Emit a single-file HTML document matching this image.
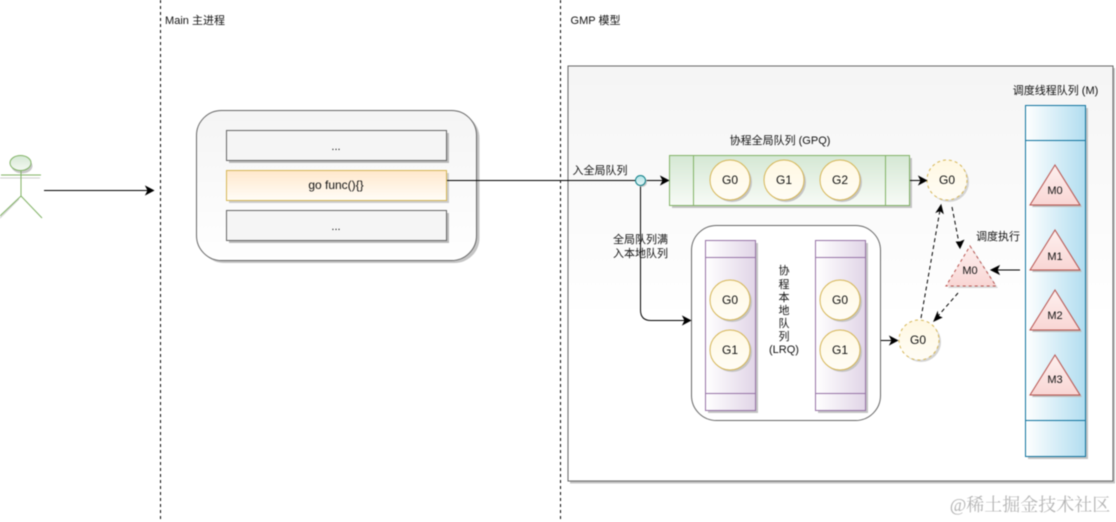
<!DOCTYPE html>
<html>
<head>
<meta charset="utf-8">
<style>
html,body{margin:0;padding:0;background:#fff;width:1116px;height:522px;overflow:hidden}
svg{display:block;filter:blur(0.4px)}
text{font-family:"Liberation Sans","Noto Sans CJK SC",sans-serif;font-size:11px;fill:#111;text-anchor:middle}
text.b{font-size:12px}
</style>
</head>
<body>
<svg width="1116" height="522" viewBox="0 0 1116 522" xmlns="http://www.w3.org/2000/svg">
<defs>
<linearGradient id="bgv" x1="0" y1="0" x2="0" y2="1"><stop offset="0" stop-color="#f5f5f5"/><stop offset="0.6" stop-color="#ffffff"/></linearGradient>
<linearGradient id="main" x1="0" y1="0" x2="0" y2="1"><stop offset="0" stop-color="#f5f5f5"/><stop offset="1" stop-color="#ffffff"/></linearGradient>
<linearGradient id="yel" x1="0" y1="0" x2="0" y2="1"><stop offset="0" stop-color="#ffe8cc"/><stop offset="1" stop-color="#fffdf8"/></linearGradient>
<linearGradient id="grn" x1="0" y1="0" x2="0" y2="1"><stop offset="0" stop-color="#d5e8d4"/><stop offset="1" stop-color="#f8fbf7"/></linearGradient>
<linearGradient id="pur" x1="0" y1="0" x2="1" y2="0"><stop offset="0" stop-color="#ffffff"/><stop offset="1" stop-color="#e1d5e7"/></linearGradient>
<linearGradient id="blu" x1="0" y1="0" x2="1" y2="0"><stop offset="0" stop-color="#ffffff"/><stop offset="1" stop-color="#b1ddf0"/></linearGradient>
<linearGradient id="red" x1="0" y1="0" x2="0" y2="1"><stop offset="0" stop-color="#fdf0ef"/><stop offset="1" stop-color="#f9d6d4"/></linearGradient>
<linearGradient id="cir" x1="0" y1="0" x2="0" y2="1"><stop offset="0" stop-color="#fff8e2"/><stop offset="1" stop-color="#fffdf6"/></linearGradient>
<linearGradient id="head" x1="0" y1="0" x2="0" y2="1"><stop offset="0" stop-color="#d5e8d4"/><stop offset="1" stop-color="#f4f9f3"/></linearGradient>
<linearGradient id="dot" x1="0" y1="0" x2="0" y2="1"><stop offset="0" stop-color="#b0e3e6"/><stop offset="1" stop-color="#e6f6f7"/></linearGradient>
</defs>

<!-- swimlanes -->
<line x1="160.5" y1="0" x2="160.5" y2="522" stroke="#000" stroke-width="1" stroke-dasharray="3 3"/>
<line x1="560.5" y1="0" x2="560.5" y2="522" stroke="#000" stroke-width="1" stroke-dasharray="3 3"/>
<text x="195" y="24">Main 主进程</text>
<text x="595.5" y="24">GMP 模型</text>

<!-- actor -->
<g fill="none" stroke="#d0d0d0" stroke-width="1" transform="translate(-2,3)">
<ellipse cx="24" cy="163" rx="10.5" ry="7.5" fill="#c8c8c8" stroke="none"/>
<line x1="0" y1="175" x2="42" y2="175"/>
<line x1="21" y1="196" x2="0" y2="217"/>
</g>
<ellipse cx="20.5" cy="163" rx="10.5" ry="7.5" fill="url(#head)" stroke="#82b366"/>
<g fill="none" stroke="#82b366" stroke-width="1">
<line x1="1" y1="175" x2="41" y2="175"/>
<line x1="21" y1="171" x2="21" y2="196"/>
<line x1="21" y1="196" x2="0" y2="216"/>
<line x1="21" y1="196" x2="42" y2="218"/>
</g>
<line x1="44" y1="190.5" x2="149" y2="190.5" stroke="#000"/>
<path d="M153.5,190.5 L146,186.5 L148,190.5 L146,194.5 Z" fill="#000" stroke="#000"/>

<!-- main box -->
<rect x="199" y="113" width="280.5" height="150" rx="25" fill="#c4c4c4"/>
<rect x="196.5" y="110.5" width="280" height="150" rx="25" fill="url(#main)" stroke="#666"/>
<rect x="229" y="133" width="220" height="30" fill="#bbb"/>
<rect x="226.5" y="130.5" width="220" height="30" fill="#f5f5f5" stroke="#666"/>
<text x="336" y="150">...</text>
<rect x="229" y="173" width="220" height="30" fill="#ccc"/>
<rect x="226.5" y="170.5" width="220" height="30" fill="url(#yel)" stroke="#d6b656"/>
<text class="b" x="336" y="189">go func(){}</text>
<rect x="229" y="213" width="220" height="30" fill="#bbb"/>
<rect x="226.5" y="210.5" width="220" height="30" fill="#f5f5f5" stroke="#666"/>
<text x="336" y="230">...</text>

<!-- GMP container -->
<rect x="570" y="68" width="545" height="415.5" fill="#c4c4c4"/>
<rect x="568" y="66" width="545" height="415" fill="url(#bgv)" stroke="#666"/>

<text x="780" y="144">协程全局队列 (GPQ)</text>
<text x="1055.5" y="94">调度线程队列 (M)</text>
<text x="600" y="174">入全局队列</text>
<text x="640.5" y="243">全局队列满</text>
<text x="640.5" y="257">入本地队列</text>
<text x="998" y="240">调度执行</text>

<!-- GPQ -->
<rect x="672" y="158" width="240" height="50" fill="#c4c4c4"/>
<rect x="669.5" y="155.5" width="240" height="50" fill="url(#grn)" stroke="#82b366"/>
<line x1="693.5" y1="155.5" x2="693.5" y2="205.5" stroke="#82b366"/>
<line x1="885.5" y1="155.5" x2="885.5" y2="205.5" stroke="#82b366"/>

<!-- LRQ -->
<rect x="691.5" y="225.5" width="189" height="195" rx="25" fill="#fff" stroke="#666"/>
<rect x="708" y="243" width="50" height="170" fill="#c4c4c4"/>
<rect x="705.5" y="240.5" width="50" height="170" fill="url(#pur)" stroke="#9673a6"/>
<line x1="705.5" y1="257.5" x2="755.5" y2="257.5" stroke="#9673a6"/>
<line x1="705.5" y1="393.5" x2="755.5" y2="393.5" stroke="#9673a6"/>
<rect x="818" y="243" width="50" height="170" fill="#c4c4c4"/>
<rect x="815.5" y="240.5" width="50" height="170" fill="url(#pur)" stroke="#9673a6"/>
<line x1="815.5" y1="257.5" x2="865.5" y2="257.5" stroke="#9673a6"/>
<line x1="815.5" y1="393.5" x2="865.5" y2="393.5" stroke="#9673a6"/>
<text x="784" y="274">协</text>
<text x="784" y="288">程</text>
<text x="784" y="301">本</text>
<text x="784" y="314">地</text>
<text x="784" y="327">队</text>
<text x="784" y="340">列</text>
<text x="784" y="353">(LRQ)</text>

<!-- circles -->
<g fill="#c4c4c4">
<circle cx="732" cy="182" r="20"/><circle cx="786" cy="182" r="20"/><circle cx="842" cy="182" r="20"/>
<circle cx="732" cy="302" r="20"/><circle cx="732" cy="352" r="20"/>
<circle cx="842" cy="302" r="20"/><circle cx="842" cy="352" r="20"/>
<circle cx="921" cy="342" r="20" fill="#d4d4d4"/><circle cx="949" cy="182" r="20" fill="#d4d4d4"/>
</g>
<g fill="url(#cir)" stroke="#d6b656">
<circle cx="730" cy="180" r="20"/><circle cx="784" cy="180" r="20"/><circle cx="840" cy="180" r="20"/>
<circle cx="730" cy="300" r="20"/><circle cx="730" cy="350" r="20"/>
<circle cx="840" cy="300" r="20"/><circle cx="840" cy="350" r="20"/>
<circle cx="919" cy="340" r="20" stroke-dasharray="3 3"/><circle cx="947" cy="180" r="20" stroke-dasharray="3 3"/>
</g>
<text class="b" x="730" y="184">G0</text><text class="b" x="784" y="184">G1</text><text class="b" x="840" y="184">G2</text>
<text class="b" x="730" y="304">G0</text><text class="b" x="730" y="354">G1</text>
<text class="b" x="840" y="304">G0</text><text class="b" x="840" y="354">G1</text>
<text class="b" x="918" y="344">G0</text><text class="b" x="947" y="184">G0</text>

<!-- M column -->
<rect x="1028" y="108" width="60" height="351" fill="#c4c4c4"/>
<rect x="1025.5" y="105.5" width="60" height="351" fill="url(#blu)" stroke="#10739e"/>
<line x1="1025.5" y1="140.5" x2="1085.5" y2="140.5" stroke="#10739e"/>
<line x1="1025.5" y1="420.5" x2="1085.5" y2="420.5" stroke="#10739e"/>
<g fill="#bbb">
<path d="M1057,167 L1082,207 L1032,207 Z"/>
<path d="M1057,232 L1082,272 L1032,272 Z"/>
<path d="M1057,292 L1082,332 L1032,332 Z"/>
<path d="M1057,357 L1082,397 L1032,397 Z"/>
<path d="M972,248 L998,288 L948,288 Z" fill="#d8d8d8"/>
</g>
<g fill="url(#red)" stroke="#b85450">
<path d="M1055,165 L1080,205 L1030,205 Z"/>
<path d="M1055,230 L1080,270 L1030,270 Z"/>
<path d="M1055,290 L1080,330 L1030,330 Z"/>
<path d="M1055,355 L1080,395 L1030,395 Z"/>
<path d="M970,246 L996,286 L946,286 Z" stroke-dasharray="3 3"/>
</g>
<text x="1055" y="194">M0</text>
<text x="1055" y="260">M1</text>
<text x="1055" y="319">M2</text>
<text x="1055" y="383">M3</text>
<text x="970" y="274">M0</text>

<!-- connectors -->
<g fill="none" stroke="#000">
<line x1="447" y1="180.5" x2="635" y2="180.5"/>
<line x1="646" y1="180.5" x2="664" y2="180.5"/>
<path d="M640.5,186 L640.5,310 Q640.5,320.5 651,320.5 L686,320.5"/>
<line x1="910" y1="180.5" x2="922" y2="180.5"/>
<line x1="881" y1="340.5" x2="893" y2="340.5"/>
<line x1="1020" y1="270" x2="997" y2="270"/>
<g stroke-dasharray="4 3">
<line x1="921" y1="318" x2="940" y2="210"/>
<line x1="952" y1="207" x2="959" y2="243"/>
<line x1="958" y1="293" x2="938" y2="316"/>
</g>
</g>
<circle cx="642" cy="182" r="5" fill="#c4c4c4"/>
<circle cx="640.5" cy="180.5" r="5" fill="url(#dot)" stroke="#0e8088"/>
<g fill="#000" stroke="#000">
<path d="M668.5,180.5 L661,176.5 L663,180.5 L661,184.5 Z"/>
<path d="M690.5,320.5 L683,316.5 L685,320.5 L683,324.5 Z"/>
<path d="M926.5,180.5 L919,176.5 L921,180.5 L919,184.5 Z"/>
<path d="M897.5,340.5 L890,336.5 L892,340.5 L890,344.5 Z"/>
<path d="M991,270 L999,266 L997,270 L999,274 Z"/>
<path d="M941,205 L936.5,212 L940,210.5 L943,213 Z"/>
<path d="M960,248 L963.5,240.5 L960,242 L956.5,242 Z"/>
<path d="M934,321 L941.5,317.5 L938,316 L937.5,312.5 Z"/>
</g>

<!-- watermark -->
<text x="1030" y="511" style="font-family:'Liberation Serif','Noto Serif CJK SC',serif;font-size:18px;fill:#b4b4b4">@稀土掘金技术社区</text>
</svg>
</body>
</html>
